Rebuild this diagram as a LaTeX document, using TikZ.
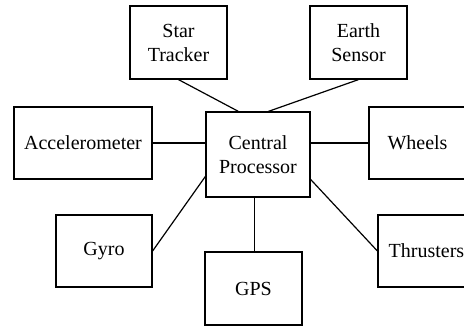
\documentclass[tikz,border=0pt]{standalone}
\usepackage{fontspec}
\setmainfont{Liberation Serif}
\begin{document}
\begin{tikzpicture}[x=1pt,y=-1pt,
  box/.style={draw,line width=1.2pt,rectangle,inner sep=0pt,align=center,
    font=\fontsize{20}{24}\selectfont,minimum width=#1},
  box/.default=97pt,
  link/.style={line width=1.2pt}]
\useasboundingbox (0,0) rectangle (464,326);
\node[box,minimum height=73pt] (star) at (178.5,42.5) {Star\\Tracker};
\node[box,minimum height=73pt] (earth) at (358.5,42.5) {Earth\\Sensor};
\node[box=138pt,minimum height=72pt] (acc) at (83,143) {Accelerometer};
\node[box=104pt,minimum height=85pt] (cp) at (258,154.5) {Central\\Processor};
\node[box,minimum height=72pt] (wheels) at (417.5,143) {Wheels};
\node[box=96pt,minimum height=72pt] (gyro) at (104,251) {Gyro};
\node[box,minimum height=73pt] (gps) at (253.5,288.5) {GPS};
\node[box,minimum height=72pt] (thr) at (426.5,251) {Thrusters};
\draw[link] (star.south) -- ([xshift=33pt]cp.north west);
\draw[link] (earth.south) -- ([xshift=63pt]cp.north west);
\draw[link] (acc.east) -- (acc.east -| cp.west);
\draw[link] (cp.east |- wheels.west) -- (wheels.west);
\draw[link] ([yshift=-65pt]cp.north west) -- (gyro.east);
\draw[link] ([xshift=1pt]gps.north |- cp.south) -- ([xshift=1pt]gps.north);
\draw[link] ([yshift=-68pt]cp.north east) -- (thr.west);
\end{tikzpicture}
\end{document}
